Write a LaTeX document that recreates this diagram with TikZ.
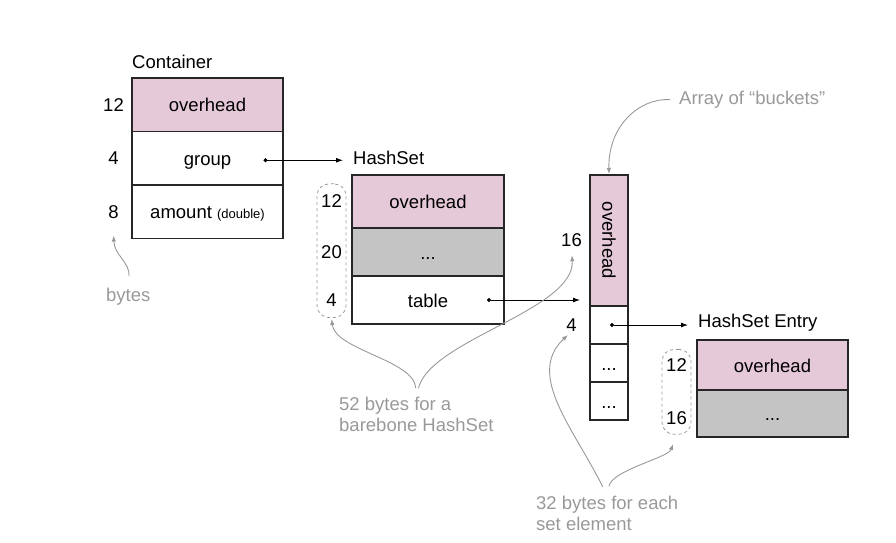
\documentclass[tikz,border=0pt]{standalone}
\usepackage{fontspec}
\setmainfont{Liberation Sans}
\usetikzlibrary{positioning,fit,arrows.meta}
\definecolor{pinkrow}{HTML}{E6C9D8}
\definecolor{grayrow}{HTML}{C4C4C4}
\definecolor{notegray}{HTML}{999999}
\tikzset{
  cell/.style={draw=black!85, line width=1.2pt, minimum width=151pt, inner sep=0, outer sep=0, text height=15pt, text depth=1pt},
  num/.style={inner sep=0},
  lbl/.style={inner sep=0, anchor=west},
  note/.style={text=notegray, inner sep=0},
  ptr/.style={{Circle[length=4pt]}-{Latex[length=7pt,width=5pt]}, line width=0.9pt},
  curve/.style={-{Latex[length=6pt,width=4.5pt]}, draw=notegray, line width=0.9pt},
  dashbox/.style={draw=notegray, dashed, line width=0.8pt, rounded corners=12pt, inner xsep=4pt, inner ysep=11pt}
}
\begin{document}
\begin{tikzpicture}[x=1pt, y=-1pt, font=\fontsize{18.5}{21}\selectfont]
\useasboundingbox (0,0) rectangle (896,542);

\node[lbl] (clbl) at (132,62) {Container};
\node[cell, fill=pinkrow, minimum height=53.5pt, anchor=north west] (c1) at (132,78) {overhead};
\node[cell, minimum height=53.5pt, below=0pt of c1] (c2) {group};
\node[cell, minimum height=53.5pt, below=0pt of c2] (c3) {amount {\fontsize{13}{15}\selectfont(double)}};
\node[num, left=8pt of c1] (n12c) {12};
\node[num] (n4c) at (n12c |- c2) {4};
\node[num] (n8c) at (n12c |- c3) {8};

\node[lbl] (hlbl) at (353,158) {HashSet};
\node[cell, fill=pinkrow, minimum width=152pt, minimum height=53pt, anchor=north west] (h1) at (352,175) {overhead};
\node[cell, fill=grayrow, minimum width=152pt, minimum height=48pt, below=0pt of h1] (h2) {...};
\node[cell, minimum width=152pt, minimum height=48pt, below=0pt of h2] (h3) {table};
\node[num, left=10pt of h1] (n12h) {12};
\node[num] (n20h) at (n12h |- h2) {20};
\node[num] (n4h) at (n12h |- h3) {4};
\node[dashbox, fit=(n12h)(n4h)] (hsd) {};

\node[cell, fill=pinkrow, minimum width=38pt, minimum height=131pt, anchor=north west] (a0) at (590,175) {};
\node[inner sep=0, rotate=-90] (a0t) at (a0.center) {overhead};
\node[cell, minimum width=38pt, minimum height=38pt, below=0pt of a0] (a1) {};
\node[cell, minimum width=38pt, minimum height=38pt, below=0pt of a1] (a2) {...};
\node[cell, minimum width=38pt, minimum height=38pt, below=0pt of a2] (a3) {...};
\node[num, left=8pt of a0] (n16a) {16};
\node[num] (n4a) at (n16a |- a1) {4};

\node[lbl] (elbl) at (698,323) {HashSet Entry};
\node[cell, fill=pinkrow, minimum height=50pt, anchor=north west] (e1) at (697,340) {overhead};
\node[cell, fill=grayrow, minimum height=47pt, below=0pt of e1] (e2) {...};
\node[num, left=10pt of e1] (n12e) {12};
\node[num, yshift=-5pt] (n16e) at (n12e |- e2) {16};
\node[dashbox, inner ysep=9pt, fit=(n12e)(n16e)] (ed) {};

\coordinate (gdot) at ([xshift=56pt, yshift=-2pt]c2.center);
\coordinate (tdot) at ([xshift=59pt]h3.center);
\coordinate (cdot) at ([xshift=1pt]a1.center);
\draw[ptr, shorten >=10pt] (gdot) -- (gdot -| hlbl.west);
\draw[ptr, shorten >=10pt] (tdot) -- (tdot -| a0.west);
\draw[ptr, shorten >=10pt] (cdot) -- (cdot -| elbl.west);

\node[note, anchor=west] (bk) at (679,100) {Array of “buckets”};
\node[note, anchor=west] (bytes) at (106,297) {bytes};
\node[note, align=left, anchor=north west] (n52) at (339,397) {52 bytes for a\\barebone HashSet};
\node[note, align=left, anchor=north west] (n32) at (536,496) {32 bytes for each\\set element};

\draw[curve, shorten <=9pt, shorten >=1pt] (bk.west) .. controls (640,98) and (608,125) .. (a0.north);
\draw[curve, shorten <=12pt, shorten >=17pt] (bytes.north) .. controls (130,262) and (114,255) .. (n8c.south);
\draw[curve, shorten <=9pt, shorten >=1pt] (n52.north) .. controls (414,360) and (335,350) .. (hsd.south);
\draw[curve, shorten <=9pt, shorten >=8pt] (n52.north) .. controls (430,340) and (575,310) .. (n16a.south);
\draw[curve, shorten <=10pt, shorten >=5pt] (n32.north) .. controls (575,430) and (525,375) .. (n4a.south);
\draw[curve, shorten <=10pt, shorten >=10pt] (n32.north) .. controls (612,470) and (668,458) .. (ed.south);
\end{tikzpicture}
\end{document}
